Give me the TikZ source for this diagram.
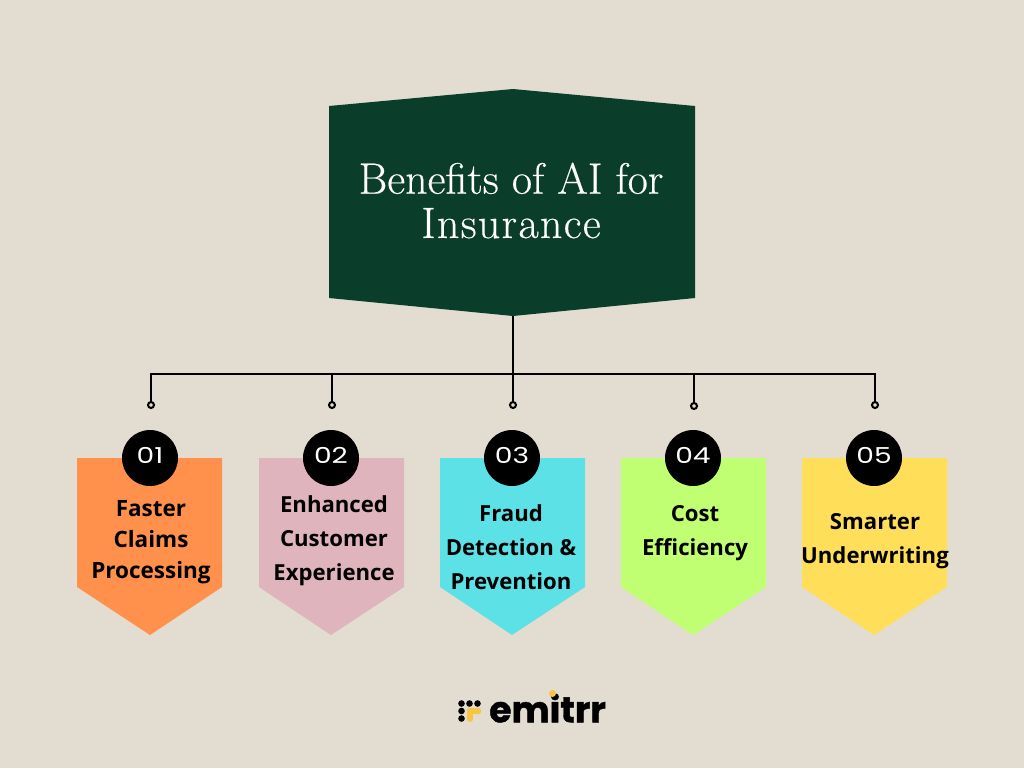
\documentclass[tikz,border=0pt]{standalone}
\usepackage{fontspec}
\setsansfont{Open Sans}
\newfontfamily\titlefont[FakeBold=0.35]{Latin Modern Roman}
\newfontfamily\numfont[FakeStretch=1.28]{Poppins}
\newfontfamily\logofont[FakeBold=1.2]{Poppins}
\usetikzlibrary{positioning}
\definecolor{bgsand}{HTML}{E3DDD1}
\definecolor{darkgreen}{HTML}{0A3D2A}
\definecolor{fillorange}{HTML}{FF914D}
\definecolor{fillpink}{HTML}{E0B4BC}
\definecolor{fillcyan}{HTML}{5CE1E6}
\definecolor{filllime}{HTML}{C1FF72}
\definecolor{fillyellow}{HTML}{FFDE59}
\definecolor{logoyellow}{HTML}{F7C443}
\tikzset{
    title/.style = {text=white, align=center, font=\titlefont\fontsize{25}{25.2}\selectfont},
    labeltxt/.style = {align=center, font=\sffamily\bfseries\fontsize{12.6}{19.4}\selectfont},
    numcirc/.style = {circle, fill=black, text=white, minimum size=56*0.02cm, inner sep=0pt, font=\numfont\fontsize{12.5}{13}\selectfont},
    dropdot/.style = {circle, draw=black, fill=bgsand, line width=1.15pt, minimum size=6*0.02cm, inner sep=0pt},
    wire/.style = {-, line width=1.25pt, black},
    logodot/.style = {circle, fill=black, inner sep=0pt, minimum size=6.6*0.02cm},
    logodoty/.style = {logodot, fill=logoyellow},
    logobar/.style = {-, line width=6.6*0.02cm, logoyellow},
}
\begin{document}
\begin{tikzpicture}[x=0.02cm,y=-0.02cm]
\useasboundingbox (0,0) rectangle (1024,768);
\fill[bgsand] (0,0) rectangle (1024,768);
%
\fill[darkgreen] (329,106) -- (513,89) -- (695,106) -- (695,298) -- (513,316) -- (329,298) -- cycle;
\node[title] at (511,200.5) (head) {Benefits of AI for\\{\addfontfeature{LetterSpace=3}Insurance}};
%
\foreach \xa/\tipx/\fillc/\num in {77/150/fillorange/01, 259/331/fillpink/02, 440/512/fillcyan/03, 621/693/filllime/04, 802/874/fillyellow/05} {
    \fill[\fillc] (\xa,458) -- (\xa+145,458) -- (\xa+145,587) -- (\tipx,635) -- (\xa,587) -- cycle;
    \node[numcirc] at (\tipx,458) (n\num) {\raisebox{3.2pt}{\num}};
}
%
\node[labeltxt,font=\sffamily\bfseries\fontsize{12.8}{17.7}\selectfont] at (151,542) (t1) {Faster\\Claims\\Processing};
\node[labeltxt] at (334,541) (t2) {Enhanced\\Customer\\Experience};
\node[labeltxt] at (511,547) (t3) {Fraud\\Detection \&\\Prevention};
\node[labeltxt] at (695,533) (t4) {Cost\\Efficiency};
\node[labeltxt] at (875,541) (t5) {Smarter\\Underwriting};
%
\coordinate (hub) at (513,316);
\coordinate (mid) at (513,374);
\coordinate (busl) at (151,374);
\coordinate (busr) at (875,374);
\node[dropdot] at (151,405) (d1) {};
\node[dropdot] at (332,405) (d2) {};
\node[dropdot] at (513,405) (d3) {};
\node[dropdot] at (694,406) (d4) {};
\node[dropdot] at (875,405) (d5) {};
\draw[wire] (hub) -- (mid);
\draw[wire] (d1) -- (busl) -- (busr) -- (d5);
\draw[wire] (d2) -- (d2 |- mid);
\draw[wire] (mid) -- (d3);
\draw[wire] (d4) -- (d4 |- mid);
%
\node[logodot] at (461.5,703.5) (l1) {};
\node[logodot] at (469.5,703.5) (l2) {};
\node[logodot] at (477.5,703.5) (l3) {};
\node[logodot] at (461.5,711) (l4) {};
\node[logodot] at (461.5,718.5) (l5) {};
\node[logodoty] at (470,711) (l6) {};
\node[logodoty] at (478,711) (l7) {};
\node[logodoty] at (470,718.5) (l8) {};
\draw[logobar] (l6.center) -- (l7.center);
\draw[logobar] (l6.center) -- (l8.center);
\node[font=\logofont\bfseries\fontsize{20.5}{20}\selectfont, anchor=west, inner sep=0pt] at (489,708) (logo) {emitrr};
\node[logodoty,minimum size=7*0.02cm] at (552.5,693.5) (idot) {};
\end{tikzpicture}
\end{document}
